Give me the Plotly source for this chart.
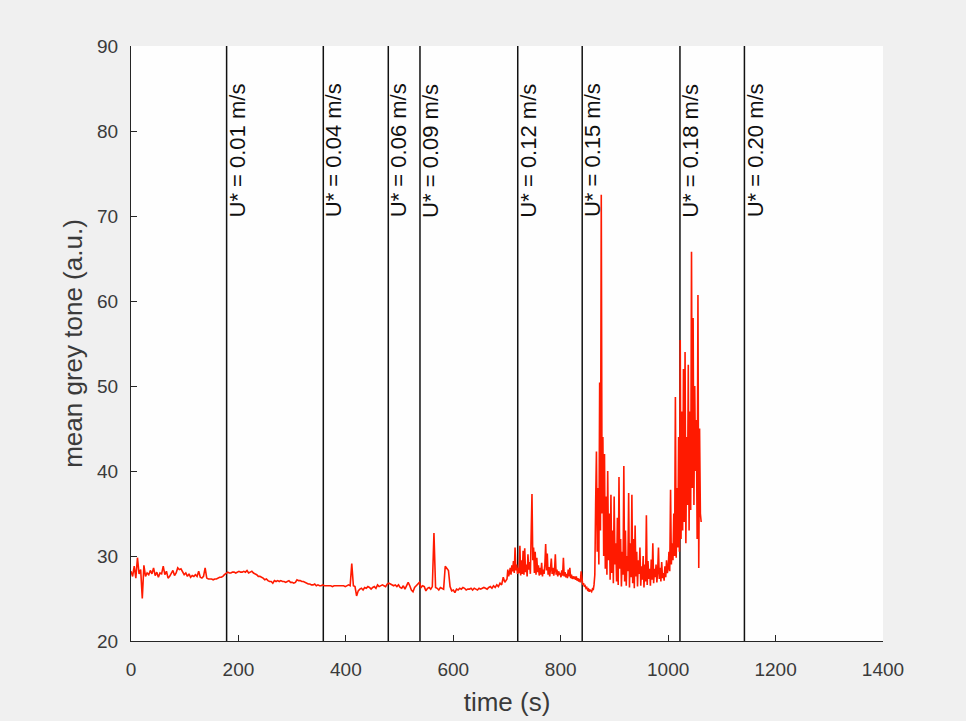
import plotly.graph_objects as go

# ---------------- data ----------------
# calm phase: one sample every 3 s from t = 0 s
calm_interval_s = 3
calm_grey_tone = [
    28.2, 27.6, 28.8, 27.4, 29.8, 27.9, 28.4, 25.0, 28.9, 27.6,   # 0-27
    28.0, 27.8, 28.3, 27.9, 28.6, 27.7, 28.1, 27.5, 28.0, 27.9,   # 30-57
    28.8, 27.8, 28.2, 27.4, 27.6, 28.0, 28.3, 27.7, 28.0, 28.6,   # 60-87
    28.4, 28.5, 28.2, 27.8, 28.0, 27.6, 27.9, 27.5, 27.7, 27.6,   # 90-117
    27.8, 27.6, 28.2, 27.5, 27.4, 27.6, 28.6, 27.4, 27.3, 27.3,   # 120-147
    27.3, 27.2, 27.3, 27.3, 27.4, 27.5, 27.5, 27.6, 27.8, 27.9,   # 150-177
    28.1, 28.0, 28.0, 28.1, 28.1, 28.0, 28.1, 28.2, 28.1, 28.1,   # 180-207
    28.2, 28.1, 28.3, 28.0, 28.1, 28.2, 28.0, 27.9, 27.8, 27.6,   # 210-237
    27.6, 27.5, 27.4, 27.2, 27.3, 27.1, 27.0, 27.0, 26.8, 27.1,   # 240-267
    27.0, 27.1, 27.0, 27.1, 27.0, 27.0, 26.9, 27.0, 27.1, 26.9,   # 270-297
    26.9, 26.8, 26.9, 27.2, 27.1, 27.1, 27.0, 27.0, 26.9, 26.8,   # 300-327
    26.7, 26.7, 26.6, 26.6, 26.7, 26.5, 26.6, 26.5, 26.5, 26.6,   # 330-357
    26.5, 26.5, 26.5, 26.5, 26.5, 26.4, 26.5, 26.5, 26.5, 26.5,   # 360-387
    26.5, 26.5, 26.5, 26.4, 26.5, 26.6, 26.5, 29.1, 26.5, 26.4,   # 390-417
    25.3, 25.9, 26.1, 26.2, 26.0, 26.3, 26.2, 26.4, 26.3, 26.1,   # 420-447
    26.3, 26.4, 26.2, 26.6, 26.4, 26.5, 26.6, 26.5, 26.4, 26.7,   # 450-477
    26.8, 26.7, 26.6, 26.5, 26.6, 26.4, 26.6, 26.3, 26.2, 26.5,   # 480-507
    26.1, 26.6, 26.9, 26.5, 26.0, 25.8, 26.3, 26.5, 26.7, 26.9,   # 510-537
    26.3, 26.5, 26.4, 25.9, 26.2, 26.3, 26.1, 26.4, 32.7, 26.3,   # 540-567
    26.2, 26.0, 26.3, 26.2, 26.1, 28.8, 28.6, 28.3, 26.4, 25.9,   # 570-597
    26.0, 25.7, 26.1, 26.0, 26.2, 26.1, 26.3, 26.2, 26.0, 26.1,   # 600-627
    26.1, 26.2, 26.0, 26.2, 26.1, 26.0, 26.2, 26.1, 26.2, 26.3,   # 630-657
    26.2, 26.1, 26.3, 26.4, 26.2, 26.5, 26.3, 26.6, 26.4, 26.8,   # 660-687
    26.6, 27.5, 26.9, 27.2,                                       # 690-699
]

# active phase: one sample every 1.5 s from t = 700 s
active_start_s = 700
active_interval_s = 1.5
active_grey_tone = [
    27.3, 28.4, 27.6, 28.0, 28.6, 27.8, 28.9, 28.2, 29.4, 28.0, 31.0, 28.3, 29.0, 27.9, 28.6, 28.0, 31.2, 27.7, 29.5, 27.9,  # 700
    30.6, 27.8, 30.9, 28.1, 29.0, 27.6, 30.2, 28.4, 29.3, 27.9, 33.0, 37.3, 29.5, 31.0, 28.0, 30.5, 27.8, 29.8, 28.1, 28.9,  # 730
    27.7, 28.6, 27.8, 29.2, 27.6, 28.4, 27.9, 29.0, 31.4, 28.3, 30.3, 27.8, 28.7, 27.6, 28.5, 29.7, 27.9, 28.6, 27.7, 28.3,  # 760
    30.2, 27.8, 28.4, 27.6, 28.2, 27.9, 28.0, 27.5, 28.3, 27.7, 29.8, 27.6, 28.1, 27.5, 27.9, 27.4, 28.4, 27.6, 28.6, 27.4,  # 790
    27.8, 27.3, 27.6, 27.4, 27.5, 27.2, 27.6, 27.1, 27.4, 27.0, 27.3, 26.9, 28.2, 27.0, 26.6, 26.8, 26.4, 26.5, 26.2, 26.3,  # 820
    26.0, 26.1, 25.8, 26.0, 25.9, 25.8, 26.1, 26.0, 26.6, 27.8, 36.0, 42.3, 30.5, 38.0, 29.0, 50.4, 33.0, 72.5, 35.0, 44.0,  # 850
    30.0, 42.0, 28.5, 37.0, 27.8, 40.0, 29.5, 35.0, 27.2, 37.2, 28.0, 33.0, 26.8, 37.0, 29.0, 31.5, 27.0, 34.5, 26.6, 39.3,  # 880
    28.5, 32.0, 26.4, 30.5, 27.8, 40.6, 27.0, 33.0, 26.5, 30.0, 28.2, 37.4, 26.3, 31.5, 27.5, 37.2, 26.8, 32.0, 26.2, 33.6,  # 910
    27.6, 30.5, 26.4, 29.5, 27.9, 31.0, 26.5, 28.8, 27.2, 30.0, 26.3, 29.0, 27.0, 34.8, 26.6, 29.4, 27.3, 28.5, 26.5, 29.6,  # 940
    27.2, 31.5, 26.8, 28.5, 27.5, 29.0, 26.9, 28.2, 31.0, 27.3, 28.6, 27.0, 29.3, 27.4, 28.0, 27.1, 28.8, 27.5, 29.5, 28.0,  # 970
    28.5, 30.5, 28.2, 37.8, 29.0, 31.5, 29.5, 35.0, 30.0, 48.7, 29.8, 38.0, 31.0, 44.0, 30.5, 55.4, 32.0, 47.0, 33.0, 52.0,  # 1000
    34.0, 54.0, 31.5, 44.0, 36.0, 52.5, 33.0, 47.0, 35.4, 65.8, 38.0, 58.0, 36.0, 50.0, 40.0, 46.0, 32.0, 60.7, 28.6, 45.0,  # 1030
    35.0, 34.0,                                                                                                            # 1060
]

time_s = ([i * calm_interval_s for i in range(len(calm_grey_tone))]
          + [active_start_s + i * active_interval_s for i in range(len(active_grey_tone))])
grey_tone = calm_grey_tone + active_grey_tone

shear_velocity_times = [178, 358, 479, 538, 720, 840, 1022, 1142]
shear_velocity_labels = ["U* = 0.01 m/s", "U* = 0.04 m/s", "U* = 0.06 m/s", "U* = 0.09 m/s",
                         "U* = 0.12 m/s", "U* = 0.15 m/s", "U* = 0.18 m/s", "U* = 0.20 m/s"]
label_base_value = 69.6

x_range = [0, 1400]
y_range = [20, 90]
x_ticks = [0, 200, 400, 600, 800, 1000, 1200, 1400]
y_ticks = [20, 30, 40, 50, 60, 70, 80, 90]

# ---------------- figure ----------------
fig = go.Figure()

for vt in shear_velocity_times:
    fig.add_trace(go.Scatter(x=[vt, vt], y=y_range, mode="lines",
                             line=dict(color="#111111", width=1.5),
                             hoverinfo="skip", showlegend=False))

fig.add_trace(go.Scatter(x=time_s, y=grey_tone, mode="lines",
                         line=dict(color="#ff1a00", width=1.6),
                         showlegend=False))

for vt, lab in zip(shear_velocity_times, shear_velocity_labels):
    fig.add_annotation(x=vt, y=label_base_value, text=lab, textangle=-90,
                       xanchor="left", yanchor="bottom", showarrow=False,
                       xshift=-4, font=dict(family="Liberation Sans, Arial", size=22, color="#111111"))

axis_color = "#262626"
text_color = "#3a3a3a"
fig.update_layout(
    width=966, height=721,
    margin=dict(l=131, r=83, t=46, b=80),
    paper_bgcolor="#f0f0f0",
    plot_bgcolor="#fefefe",
    font=dict(family="Liberation Sans, Arial", size=19, color=text_color),
    xaxis=dict(range=x_range, tickvals=x_ticks, ticks="inside", ticklen=6, tickwidth=1,
               tickcolor=axis_color, showline=True, linecolor=axis_color, linewidth=1,
               showgrid=False, zeroline=False, mirror=False, ticklabelstandoff=11,
               automargin=False,
               title=dict(text="time (s)", font=dict(size=26, color=text_color), standoff=14),
               tickfont=dict(size=19, color=text_color)),
    yaxis=dict(range=y_range, tickvals=y_ticks, ticks="inside", ticklen=6, tickwidth=1,
               tickcolor=axis_color, showline=True, linecolor=axis_color, linewidth=1,
               showgrid=False, zeroline=False, mirror=False, automargin=False,
               title=dict(text="mean grey tone (a.u.)", font=dict(size=26, color=text_color), standoff=6),
               tickfont=dict(size=19, color=text_color), ticklabelstandoff=8),
)

fig.write_html("out.html")
